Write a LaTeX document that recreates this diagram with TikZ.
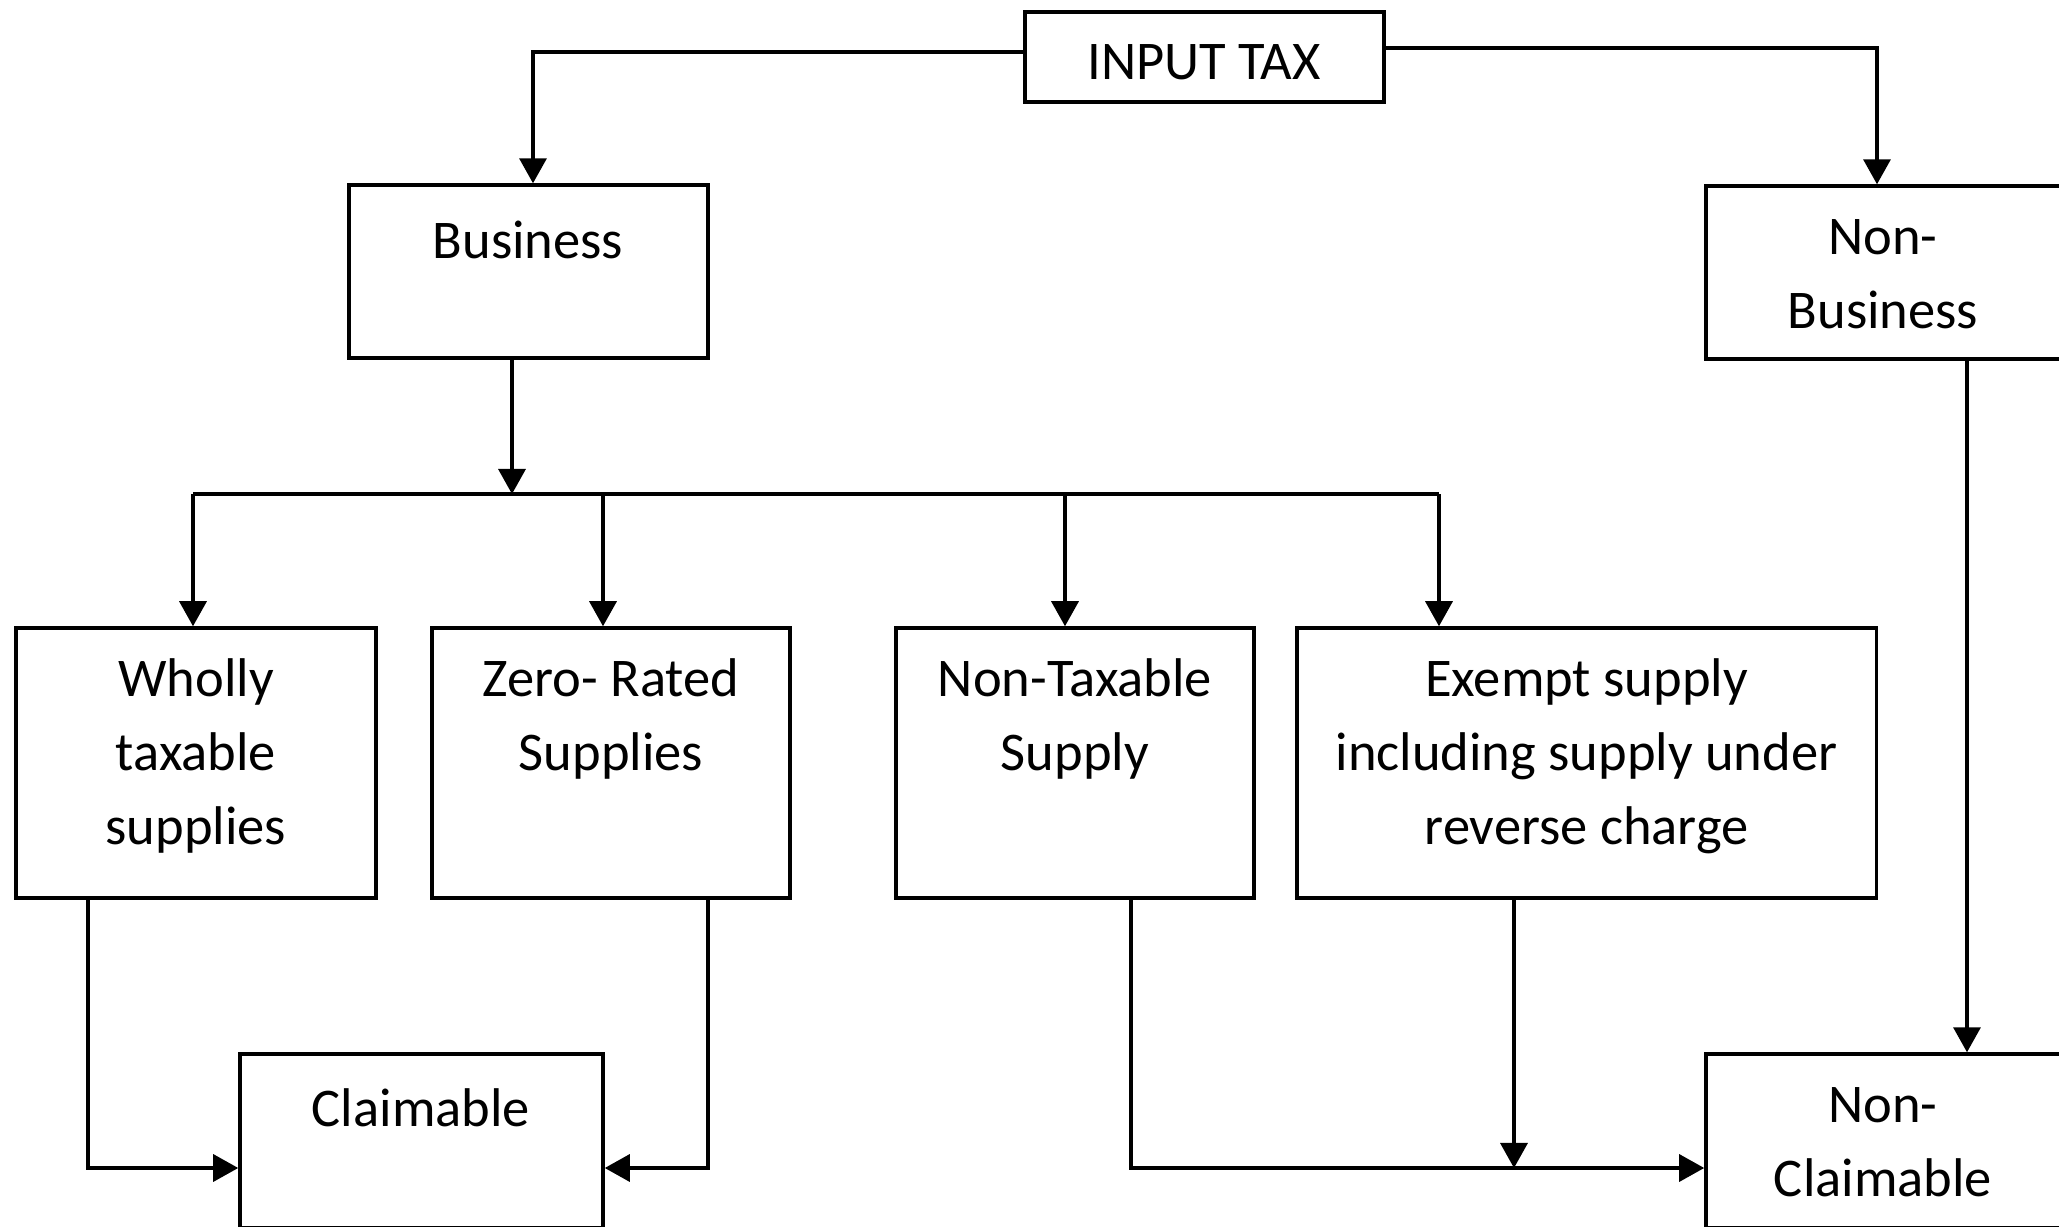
\documentclass[tikz,border=0pt]{standalone}
\usepackage{fontspec}
\setmainfont{Carlito}
\usetikzlibrary{arrows.meta,calc}
\newcommand\lblfont{\fontsize{15.5pt}{21.1pt}\selectfont}
\begin{document}
\begin{tikzpicture}[x=0.01cm,y=-0.01cm,
  line width=0.95pt,
  box/.style={draw, rectangle, inner sep=0, line width=0.95pt},
  lbl/.style={anchor=north, align=center, inner sep=0, font=\lblfont, execute at begin node=\strut},
  arr/.style={-{Triangle[length=0.25cm,width=0.27cm]}}]
\path[use as bounding box] (0,0) rectangle (2059,1227);
\clip (0,0) rectangle (2059,1227);
% boxes
\node[box, minimum width=3.59cm, minimum height=0.90cm] (tax) at (1204.5,57) {};
\node[box, minimum width=3.59cm, minimum height=1.73cm] (biz) at (528.5,271.5) {};
\node[box, minimum width=3.60cm, minimum height=1.73cm] (nonbiz) at (1886,272.5) {};
\node[box, minimum width=3.60cm, minimum height=2.70cm] (wholly) at (196,763) {};
\node[box, minimum width=3.58cm, minimum height=2.70cm] (zero) at (611,763) {};
\node[box, minimum width=3.58cm, minimum height=2.70cm] (nontax) at (1075,763) {};
\node[box, minimum width=5.79cm, minimum height=2.70cm] (exempt) at (1586.5,763) {};
\node[box, minimum width=3.63cm, minimum height=1.74cm] (claim) at (421.5,1141) {};
\node[box, minimum width=3.60cm, minimum height=1.74cm] (noncl) at (1886,1141) {};
% labels
\node[lbl] (taxT) at (1204,26) {INPUT TAX};
\node[lbl] (bizT) at (528,205) {Business};
\node[lbl] (nonbizT) at (1883,218) {Non-\\Business};
\node[lbl] (whollyT) at (196,657) {Wholly\\taxable\\supplies};
\node[lbl] (zeroT) at (611,657) {Zero- Rated\\Supplies};
\node[lbl] (nontaxT) at (1075,657) {Non-Taxable\\Supply};
\node[lbl] (exemptT) at (1586.5,657) {Exempt supply\\including supply under\\reverse charge};
\node[lbl] (claimT) at (421,1073) {Claimable};
\node[lbl] (nonclT) at (1883,1086) {Non-\\Claimable};
% connectors
\coordinate (bus) at (512,494);
\coordinate (hl) at (193,494);
\coordinate (d2) at (603,494);
\coordinate (d3) at (1065,494);
\coordinate (hr) at (1439,494);
\coordinate (m) at (1514,1168);
\draw[arr] ($(tax.west)+(0,-5)$) -| ($(biz.north)+(4.5,0)$);
\draw[arr] ($(tax.east)+(0,-9)$) -| ($(nonbiz.north)+(-9,0)$);
\draw[arr] ($(biz.south)+(-16.5,0)$) -- (bus);
\draw (hl) -- (hr);
\draw[arr] (hl) -- (hl |- wholly.north);
\draw[arr] (d2) -- (d2 |- zero.north);
\draw[arr] (d3) -- (d3 |- nontax.north);
\draw[arr] (hr) -- (hr |- exempt.north);
\draw[arr] ($(wholly.south)+(-108,0)$) |- ($(claim.west)+(0,27)$);
\draw[arr] ($(zero.south)+(97,0)$) |- ($(claim.east)+(0,27)$);
\draw[arr] ($(nontax.south)+(56,0)$) |- ($(noncl.west)+(0,27)$);
\draw[arr] (m |- exempt.south) -- (m);
\draw[arr] ($(nonbiz.south)+(81,0)$) -- ($(noncl.north)+(81,0)$);
\end{tikzpicture}
\end{document}
